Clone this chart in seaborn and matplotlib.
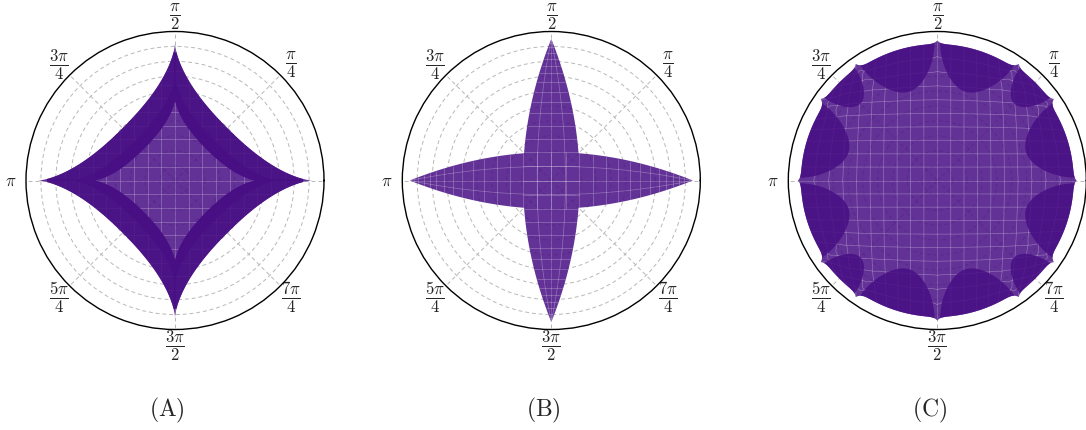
import numpy as np
import matplotlib
matplotlib.use("Agg")
import matplotlib.pyplot as plt
import seaborn as sns

# ------------------------------------------------------------------ data
THETA_TICKS_DEG = [0, 45, 90, 135, 180, 225, 270, 315]
THETA_TICK_LABELS = ["", r"$\dfrac{\pi}{4}$", r"$\dfrac{\pi}{2}$", r"$\dfrac{3\pi}{4}$",
                     r"$\pi$", r"$\dfrac{5\pi}{4}$", r"$\dfrac{3\pi}{2}$", r"$\dfrac{7\pi}{4}$"]
R_TICKS = [0.1, 0.2, 0.3, 0.4, 0.5, 0.6, 0.7, 0.8, 0.9]
R_MAX = 1.0
PANEL_LABELS = [r"$(\mathrm{A})$", r"$(\mathrm{B})$", r"$(\mathrm{C})$"]

# (A) astroid-like star with a folded rim
STAR_TIP = 0.92
STAR_DIAGONAL_RATIO = 0.54
STAR_EXPONENT = 2 / 3
STAR_CORE_SCALE = 0.6
STAR_FOLD_FRACTION = 0.4

# (B) two crossed lenses
LENS_TIP = 0.95
LENS_HALF_WIDTH = 0.19

# (C) twelve cusps with folded scallops between them
CUSP_ANGLES_DEG = [0, 35, 55, 90, 125, 145, 180, 215, 235, 270, 305, 325]
CUSP_RADII = [0.935, 0.955, 0.955, 0.94, 0.955, 0.955,
              0.935, 0.955, 0.955, 0.94, 0.955, 0.955]
SCALLOP_RADII = [0.915, 0.93, 0.915] * 4
LOBE_DEPTHS = [0.29, 0.20, 0.29] * 4

# ------------------------------------------------------------------ style
FILL_COLOR = "#480F84"
FILL_ALPHA = 0.855
MESH_RGBA = (1.0, 1.0, 1.0, 0.30)

sns.set_theme(style="white")
plt.rcParams["mathtext.fontset"] = "cm"
plt.rcParams["font.family"] = ["DejaVu Serif"]

W, H = 1086, 431
fig = plt.figure(figsize=(W / 100, H / 100), dpi=100)
centers_px = [175.0, 551.3, 937.3]
radius_px = 149.0
cy_px = 181.5
caption_x_px = [167, 543, 930]
caption_y_px = 410


def make_axes(cx):
    rect = [(cx - radius_px) / W, (H - cy_px - radius_px) / H,
            2 * radius_px / W, 2 * radius_px / H]
    return fig.add_axes(rect, projection="polar")


def style_polar(ax):
    ax.set_ylim(0, R_MAX)
    ax.set_yticks(R_TICKS)
    ax.set_yticklabels([])
    ax.set_xticks(np.deg2rad(THETA_TICKS_DEG))
    ax.set_xticklabels(THETA_TICK_LABELS)
    ax.tick_params(axis="x", labelsize=12, pad=4, length=0)
    ax.tick_params(axis="y", length=0)
    ax.grid(True, color="#b8b8b8", linestyle=(0, (4, 3)), linewidth=0.7)
    ax.set_axisbelow(True)
    ax.spines["polar"].set_color("black")
    ax.spines["polar"].set_linewidth(1.0)


def to_polar(x, y):
    return np.unwrap(np.arctan2(y, x)), np.hypot(x, y)


def fill_layer(ax, theta, r, z):
    return ax.fill(theta, r, color=FILL_COLOR, alpha=FILL_ALPHA, lw=0, zorder=z)[0]


def band(ax, theta, r_outer, r_inner, z=2):
    return fill_layer(ax, np.concatenate([theta, theta[::-1]]),
                      np.concatenate([r_outer, r_inner[::-1]]), z)


def mesh_lines(ax, lines, clip=None):
    for x, y in lines:
        t, r = to_polar(x, y)
        ln, = ax.plot(t, r, color=MESH_RGBA[:3], alpha=MESH_RGBA[3], lw=0.5,
                      zorder=1.5, solid_capstyle="butt")
        if clip is not None:
            ln.set_clip_path(clip)


# ------------------------------------------------------------------ shapes
STAR_POWER = -np.log2(STAR_DIAGONAL_RATIO) / (1 - STAR_EXPONENT / 2)


def star_radius(phi):
    p = STAR_EXPONENT
    return STAR_TIP / (np.abs(np.cos(phi)) ** p + np.abs(np.sin(phi)) ** p) ** STAR_POWER


def lens_half(x):
    return LENS_HALF_WIDTH * (1 - (x / LENS_TIP) ** 2)


def lens_radius(phi):
    c, s = np.abs(np.cos(phi)), np.abs(np.sin(phi))
    a = LENS_HALF_WIDTH * c ** 2 / LENS_TIP ** 2
    return 2 * LENS_HALF_WIDTH / (s + np.sqrt(s ** 2 + 4 * a * LENS_HALF_WIDTH))


cusps = np.deg2rad(CUSP_ANGLES_DEG)
cusps_ext = np.append(cusps, 2 * np.pi)
cusp_r = np.array(CUSP_RADII)
scallop_r = np.array(SCALLOP_RADII)


def scallop_outline(phi):
    p = np.mod(phi, 2 * np.pi)
    i = np.clip(np.searchsorted(cusps_ext, p, side="right") - 1, 0, len(cusps) - 1)
    a, b = cusps_ext[i], cusps_ext[i + 1]
    ra, rb = cusp_r[i], cusp_r[(i + 1) % len(cusps)]
    rl = scallop_r[i]
    w = np.deg2rad(1.3)
    return rl + (ra - rl) * np.exp(-(p - a) / w) + (rb - rl) * np.exp(-(b - p) / w)


phi = np.linspace(0, 2 * np.pi, 8001)
dense = np.linspace(-1, 1, 500)
axA, axB, axC = [make_axes(cx) for cx in centers_px]

# ---- (A)
baseA = fill_layer(axA, phi, star_radius(phi), 1)
g = np.arange(-10, 11) * 0.092
linesA = [(np.full_like(dense, c), dense) for c in g] + \
         [(dense, np.full_like(dense, c)) for c in g]
mesh_lines(axA, linesA, clip=baseA)
eps, dlt = 0.01, 0.012
for k in range(4):
    a0 = k * np.pi / 2
    ph = np.linspace(a0 - eps, a0 + np.pi / 2 + eps, 1500)
    dist = np.minimum(np.abs(ph - a0), np.abs(ph - a0 - np.pi / 2))
    outer = star_radius(np.maximum(dist, dlt))
    inner = STAR_CORE_SCALE * star_radius(ph)
    band(axA, ph, outer, inner)
    band(axA, ph, inner + STAR_FOLD_FRACTION * (outer - inner), inner)

# ---- (B)
rB = np.maximum(lens_radius(phi), lens_radius(phi - np.pi / 2))
baseB = fill_layer(axB, phi, rB, 1)
kk = 1.3
xs = LENS_TIP * np.tanh(kk * np.linspace(-1, 1, 31)) / np.tanh(kk)
xd = LENS_TIP * np.tanh(kk * dense) / np.tanh(kk)
arm = [(np.full_like(dense, x0), dense * lens_half(x0)) for x0 in xs[1:-1]]
arm += [(xd, v * lens_half(xd)) for v in (-0.5, 0.0, 0.5)]
linesB = arm + [(y, x) for x, y in arm]
mesh_lines(axB, linesB, clip=baseB)

# ---- (C)
baseC = fill_layer(axC, phi, scallop_outline(phi), 1)
linesC = []
for c in np.linspace(-1, 1, 21)[1:-1]:
    for X, Y in ((np.full_like(dense, c), dense), (dense, np.full_like(dense, c))):
        e = np.hypot(X, Y)
        ang = np.arctan2(Y, X)
        s = np.maximum(np.abs(X), np.abs(Y))
        wgt = s ** 4
        r = (1 - wgt) * 0.9 * e + wgt * s * scallop_outline(ang)
        linesC.append((r * np.cos(ang), r * np.sin(ang)))
mesh_lines(axC, linesC, clip=baseC)
margin = np.deg2rad(1.2)
for i in range(len(cusps)):
    a, b = cusps_ext[i], cusps_ext[i + 1]
    ph = np.linspace(a + margin, b - margin, 400)
    s = (ph - ph[0]) / (ph[-1] - ph[0])
    outer = scallop_outline(ph)
    inner = outer - LOBE_DEPTHS[i] * np.sqrt(np.clip(1 - (2 * s - 1) ** 2, 0, None))
    band(axC, ph, outer, inner)

for ax in (axA, axB, axC):
    style_polar(ax)

for label, x in zip(PANEL_LABELS, caption_x_px):
    fig.text(x / W, (H - caption_y_px) / H, label, ha="center", va="center", fontsize=17)

fig.savefig("out.png", dpi=100)
